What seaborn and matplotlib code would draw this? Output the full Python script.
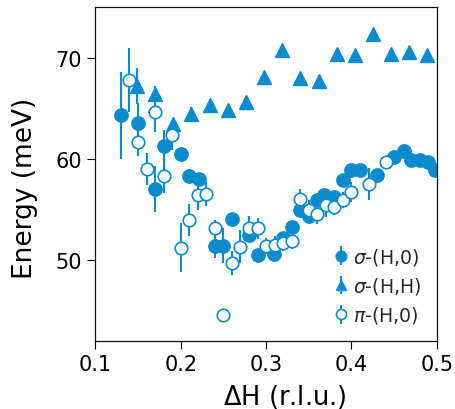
import matplotlib
matplotlib.use("Agg")
import matplotlib.pyplot as plt
import seaborn as sns

# sigma-(H,0), filled circles
sig_h0_x = [0.130, 0.150, 0.170, 0.180, 0.200, 0.210, 0.221, 0.240, 0.250, 0.260,
            0.280, 0.290, 0.309, 0.320, 0.330, 0.340, 0.350, 0.360, 0.368, 0.379,
            0.390, 0.400, 0.410, 0.430, 0.450, 0.461, 0.470, 0.480, 0.490, 0.498]
sig_h0_y = [64.3, 63.55, 57.0, 61.25, 60.5, 58.25, 57.95, 51.4, 51.4, 54.0,
            52.4, 50.5, 50.6, 52.2, 53.2, 54.9, 54.3, 55.9, 56.4, 56.2,
            57.9, 58.9, 58.9, 58.35, 60.2, 60.8, 59.9, 59.9, 59.7, 58.9]
sig_h0_err = [4.3, 2.0, 2.3, 1.6, 0.6, 0.7, 0.7, 1.2, 1.7, 0.5,
              0.5, 0.4, 0.4, 0.5, 0.5, 0.5, 0.5, 0.5, 0.5, 0.5,
              0.5, 0.5, 0.5, 0.5, 0.4, 0.4, 0.4, 0.4, 0.4, 0.4]

# sigma-(H,H), triangles
sig_hh_x = [0.1485, 0.170, 0.1906, 0.212, 0.234, 0.255, 0.276, 0.298, 0.319,
            0.340, 0.3616, 0.383, 0.404, 0.425, 0.446, 0.467, 0.489]
sig_hh_y = [67.2, 66.4, 63.4, 64.4, 65.3, 64.8, 65.6, 68.1, 70.8,
            68.0, 67.7, 70.4, 70.3, 72.3, 70.4, 70.6, 70.3]
sig_hh_err = [1.8, 0.8, 0.6, 0.7, 0.3, 0.5, 0.3, 0.3, 0.5,
              0.3, 0.3, 0.3, 0.3, 0.3, 0.3, 0.3, 0.3]

# pi-(H,0), open circles
pi_h0_x = [0.140, 0.150, 0.160, 0.170, 0.180, 0.190, 0.200, 0.210, 0.220, 0.230,
           0.240, 0.250, 0.260, 0.270, 0.280, 0.290, 0.300, 0.310, 0.320, 0.330,
           0.340, 0.350, 0.360, 0.370, 0.380, 0.390, 0.400, 0.420, 0.440]
pi_h0_y = [67.8, 61.65, 59.0, 64.6, 58.3, 62.3, 51.2, 53.9, 56.4, 56.5,
           53.1, 44.5, 49.7, 51.3, 53.1, 53.1, 51.4, 51.5, 51.7, 51.85,
           56.0, 54.9, 54.5, 55.4, 55.2, 55.9, 56.7, 57.5, 59.7]
pi_h0_err = [3.2, 1.4, 1.6, 2.0, 1.7, 1.4, 2.4, 1.6, 1.5, 1.2,
             0.8, 0.0, 1.2, 1.6, 1.2, 1.0, 0.8, 0.8, 0.8, 0.8,
             1.0, 1.0, 1.0, 1.2, 0.8, 0.8, 1.0, 1.6, 0.6]

blue = "#0a8bce"

sns.set_theme(style="ticks")
plt.rcParams['font.family'] = ['DejaVu Sans']
plt.rcParams['mathtext.fontset'] = 'dejavusans'

fig = plt.figure(figsize=(4.56, 4.10), dpi=100)
ax = fig.add_axes([0.209, 0.167, 0.749, 0.813])

ax.errorbar(sig_h0_x, sig_h0_y, yerr=sig_h0_err, fmt='o', color=blue,
            ms=9.6, elinewidth=1.5, capsize=0, label=r'$\sigma$-(H,0)', zorder=2)
ax.errorbar(sig_hh_x, sig_hh_y, yerr=sig_hh_err, fmt='^', color=blue,
            ms=9.5, elinewidth=1.5, capsize=0, label=r'$\sigma$-(H,H)', zorder=3)
ax.errorbar(pi_h0_x, pi_h0_y, yerr=pi_h0_err, fmt='o', color=blue, mfc='white',
            mec=blue, mew=1.2, ms=9.0, elinewidth=1.5, capsize=0,
            label=r'$\pi$-(H,0)', zorder=4)

ax.set_xlim(0.1, 0.5)
ax.set_ylim(42, 75)
ax.set_xticks([0.1, 0.2, 0.3, 0.4, 0.5])
ax.set_yticks([50, 60, 70])
ax.set_xlabel(r'$\Delta$H (r.l.u.)', fontsize=18.5, color='black')
ax.set_ylabel('Energy (meV)', fontsize=19, color='black')
ax.xaxis.set_label_coords(0.556, -0.125)
ax.yaxis.set_label_coords(-0.168, 0.46)
ax.tick_params(direction='out', length=6, width=0.8, labelsize=15,
               colors='black')
ax.tick_params(axis='x', pad=4)
for s in ax.spines.values():
    s.set_linewidth(0.9)
    s.set_color('#111111')

ax.legend(loc='lower right', frameon=False, fontsize=13.6, handlelength=0.8,
          handletextpad=0.26, labelspacing=0.44, borderaxespad=0.4,
          markerscale=0.8)

fig.savefig("out.png", dpi=100)
